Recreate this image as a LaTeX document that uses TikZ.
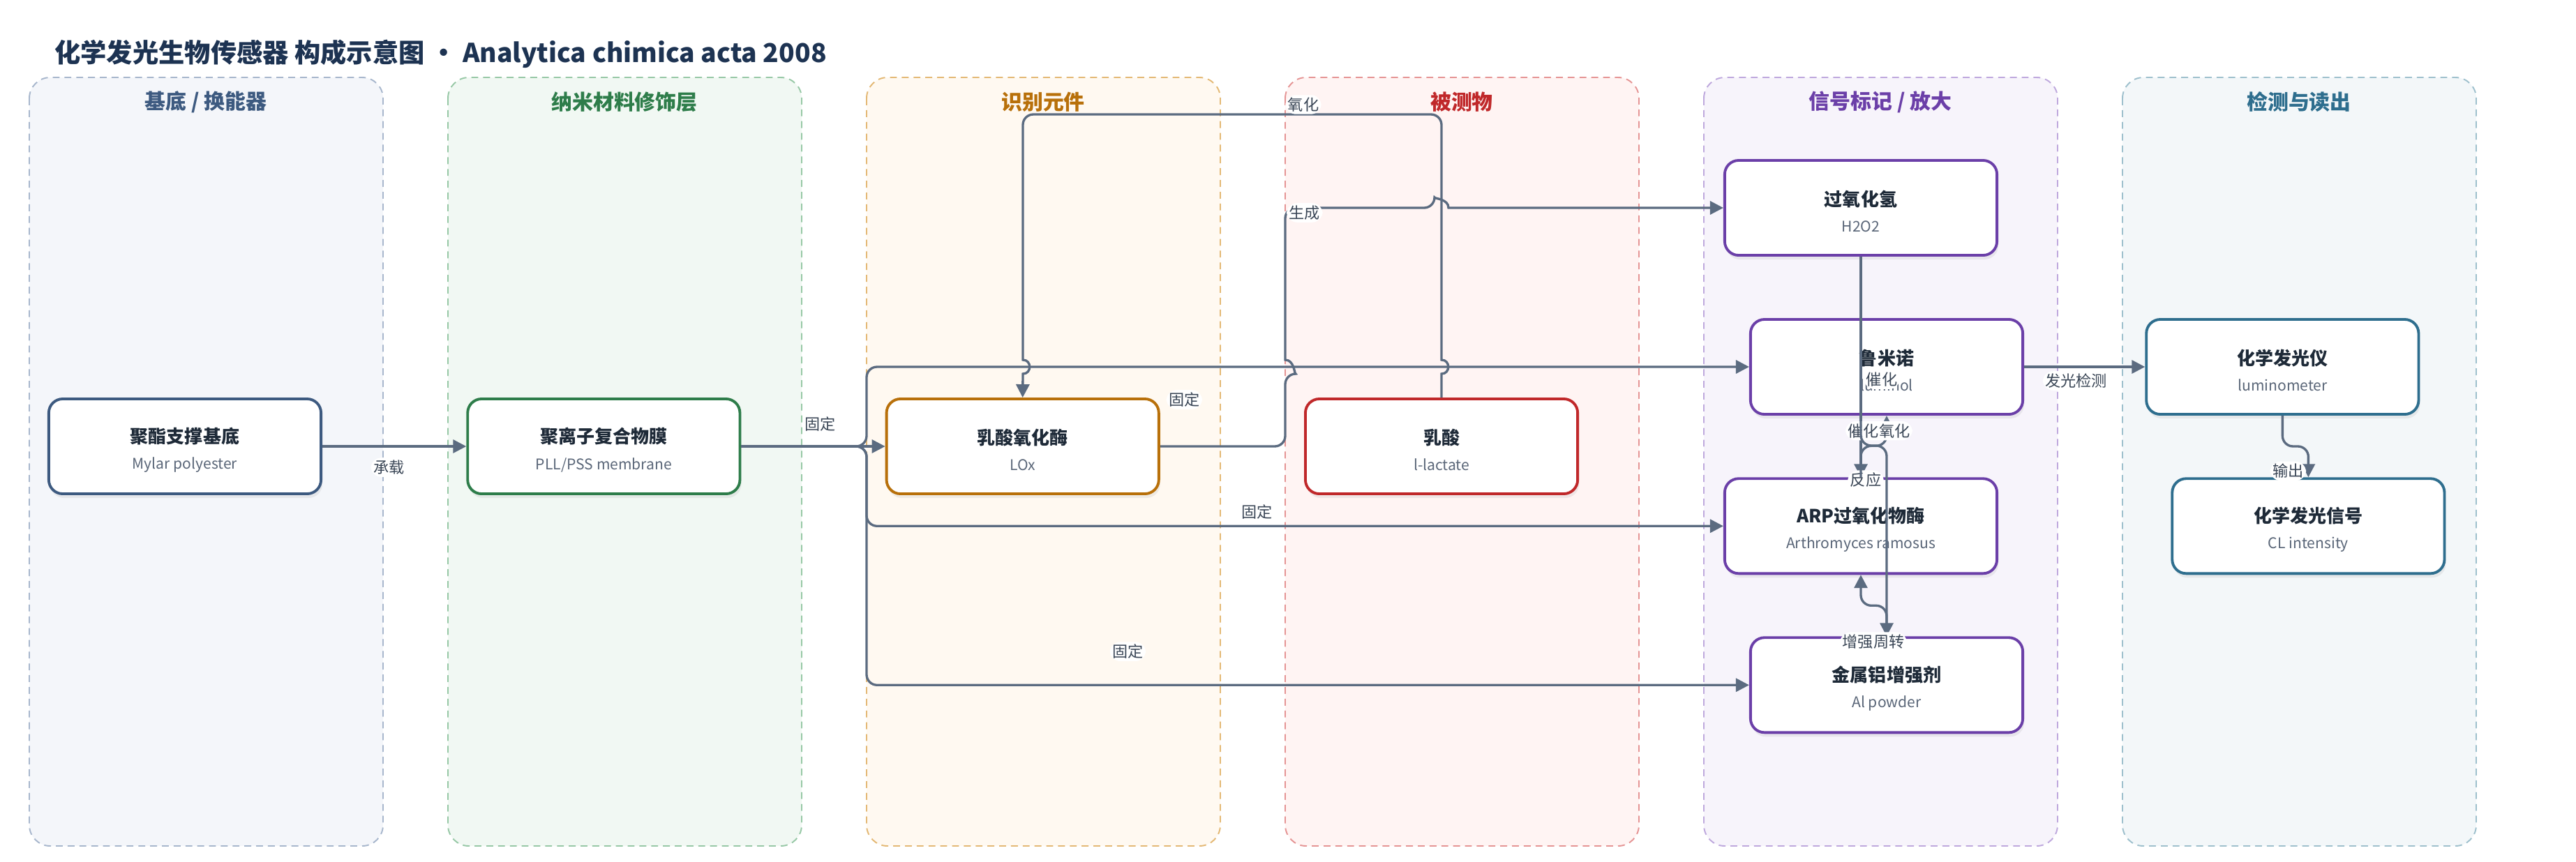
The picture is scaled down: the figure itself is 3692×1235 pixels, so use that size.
\documentclass[tikz,border=0pt]{standalone}
\usepackage{fontspec}
\setmainfont{Noto Sans CJK SC}
\usepackage{xcolor}
\usepackage{tikz}
\usetikzlibrary{positioning, arrows.meta, shadows}

\definecolor{edgec}{HTML}{5B6B80}
\definecolor{lblc}{HTML}{3A4656}
\definecolor{titlec}{HTML}{1D3352}
\definecolor{inkc}{HTML}{1E2A38}
\definecolor{subc}{HTML}{5A6678}
\definecolor{bluehd}{HTML}{3D5A80}   \definecolor{bluebg}{HTML}{F4F6FA}   \definecolor{bluebd}{HTML}{A7B6CC}
\definecolor{greenhd}{HTML}{2E7D4A}  \definecolor{greenbg}{HTML}{F1F8F3}  \definecolor{greenbd}{HTML}{97C8A6}
\definecolor{orangehd}{HTML}{B8700A} \definecolor{orangebg}{HTML}{FFF9F1} \definecolor{orangebd}{HTML}{E3B874}
\definecolor{redhd}{HTML}{C0282A}    \definecolor{redbg}{HTML}{FFF4F3}    \definecolor{redbd}{HTML}{E59494}
\definecolor{purphd}{HTML}{6B3FA8}   \definecolor{purpbg}{HTML}{F7F4FB}   \definecolor{purpbd}{HTML}{BEA8DD}
\definecolor{tealhd}{HTML}{2E6E8E}   \definecolor{tealbg}{HTML}{F3F7F9}   \definecolor{tealbd}{HTML}{9EC0CD}

\newcommand{\twoline}[2]{{\bfseries\color{inkc}\fontsize{7.4}{9}\selectfont\rule{0pt}{9.3pt}#1}\\[-1.35pt]{\color{subc}\fontsize{6}{7}\selectfont #2}}

\tikzset{
	>={Triangle[length=5.4pt,width=5.4pt]}, % filled arrow heads
	lane/.style={rounded corners=0.3cm, line width=0.55pt, dash pattern=on 2.8pt off 2pt}, % dashed column
	lanehead/.style={font=\bfseries\fontsize{8.5}{10}\selectfont},
	box/.style={line width=1.1pt, fill=white, rounded corners=0.2cm, minimum width=3.9cm, minimum height=1.36cm, align=center,
		drop shadow={shadow xshift=0.02cm, shadow yshift=-0.06cm, opacity=0.12}},
	flow/.style={->, draw=edgec, line width=0.95pt, rounded corners=0.15cm},
	lbl/.style={fill=white, text=lblc, inner sep=1pt, font=\fontsize{6.3}{7}\selectfont},
}

\begin{document}
\begin{tikzpicture}[x=0.01cm, y=-0.01cm, on grid]
	\useasboundingbox (0,0) rectangle (3692,1235);
	
	% Title
	\node[anchor=west, text=titlec, font=\bfseries\fontsize{10.6}{12}\selectfont] (title) at (66,77)
		{化学发光生物传感器 构成示意图 • Analytica chimica acta 2008};
	
	% Columns
	\draw[lane, fill=bluebg, draw=bluebd] (42,111) rectangle (549,1213);
	\draw[lane, fill=greenbg, draw=greenbd] (642,111) rectangle (1149,1213);
	\draw[lane, fill=orangebg, draw=orangebd] (1242,111) rectangle (1749,1213);
	\draw[lane, fill=redbg, draw=redbd] (1842,111) rectangle (2349,1213);
	\draw[lane, fill=purpbg, draw=purpbd] (2442,111) rectangle (2949,1213);
	\draw[lane, fill=tealbg, draw=tealbd] (3042,111) rectangle (3549,1213);
	\node[lanehead, text=bluehd] (h1) at (295,146) {基底 / 换能器};
	\node[lanehead, text=greenhd] (h2) at (895,146) {纳米材料修饰层};
	\node[lanehead, text=orangehd] (h3) at (1495,146) {识别元件};
	\node[lanehead, text=redhd] (h4) at (2095,146) {被测物};
	\node[lanehead, text=purphd] (h5) at (2695,146) {信号标记 / 放大};
	\node[lanehead, text=tealhd] (h6) at (3295,146) {检测与读出};
	
	% Components
	\node[box, draw=bluehd] (pet) at (265,640) {\twoline{聚酯支撑基底}{Mylar polyester}};
	\node[box, draw=greenhd, right=6cm of pet] (pll) {\twoline{聚离子复合物膜}{PLL/PSS membrane}};
	\node[box, draw=orangehd, right=6cm of pll] (lox) {\twoline{乳酸氧化酶}{LOx}};
	\node[box, draw=redhd, right=6cm of lox] (lac) {\twoline{乳酸}{l-lactate}};
	\node[box, draw=purphd] (hp) at (2667,298) {\twoline{过氧化氢}{H2O2}};
	\node[box, draw=purphd, below=4.56cm of hp] (arp) {\twoline{ARP过氧化物酶}{Arthromyces ramosus}};
	\node[box, draw=purphd] (lum) at (2704,526) {\twoline{鲁米诺}{luminol}};
	\node[box, draw=purphd, below=4.56cm of lum] (al) {\twoline{金属铝增强剂}{Al powder}};
	\node[box, draw=tealhd, right=5.67cm of lum] (lm) {\twoline{化学发光仪}{luminometer}};
	\node[box, draw=tealhd, right=6.41cm of arp] (cl) {\twoline{化学发光信号}{CL intensity}};
	
	% Connections
	\coordinate (trunk) at (1242,640);
	\draw[flow] (pet) -- node[lbl, yshift=-0.3cm, xshift=-0.08cm] {承载} (pll);
	\draw[flow] (pll) -- node[lbl, yshift=0.32cm, xshift=0.1cm] {固定} (lox);
	\draw[flow] (pll.east) -- (trunk) |- node[lbl, pos=0.68, yshift=-0.47cm] {固定} (lum.west);
	\draw[flow] (pll.east) -- (trunk) |- node[lbl, pos=0.728, yshift=0.2cm] {固定} (arp.west);
	\draw[flow] (pll.east) -- (trunk) |- node[lbl, pos=0.648, yshift=0.48cm] {固定} (al.west);
	\draw[flow] (lox.east) -- (1842,640) -- (1842,536) [sharp corners]
		.. controls (1855,536) and (1855,516) .. (1842,516) -- (1842,420) [rounded corners=0.15cm]
		-- (1842,298) -- node[lbl, pos=0.13, yshift=-0.07cm] {生成} (2056,298) [sharp corners]
		.. controls (2056,285) and (2076,285) .. (2076,298) -- (hp.west);
	\draw[flow, sharp corners] (lac.north) -- (2066,536)
		.. controls (2079,536) and (2079,516) .. (2066,516) -- (2066,420) [rounded corners=0.15cm]
		-- (2066,164) -- node[lbl, pos=0.33, yshift=0.14cm] {氧化} (1466,164) -- (1466,420) [sharp corners]
		-- (1466,516) .. controls (1479,516) and (1479,536) .. (1466,536) -- (lox.north);
	\draw[flow] (hp.south) -- node[lbl, pos=1, xshift=0.07cm, yshift=-0.04cm] {反应} (arp.north);
	\draw[flow] (arp.north) -- ++(0,-45) -| node[lbl, pos=0.75, xshift=-0.11cm] {催化氧化} (lum.south);
	\draw[flow] (hp.south) -- node[lbl, pos=0.65, xshift=0.3cm] {催化} (2667,639) -| (al.north);
	\draw[flow] (al.north) -- node[lbl, pos=0, xshift=-0.19cm, yshift=-0.08cm] {增强周转} ++(0,-44) -| (arp.south);
	\draw[flow] (lum) -- node[lbl, xshift=-0.12cm, yshift=-0.2cm] {发光检测} (lm);
	\draw[flow] (lm.south) -- ++(0,44) -| node[lbl, pos=0.9, xshift=-0.29cm] {输出} (cl.north);
\end{tikzpicture}
\end{document}
